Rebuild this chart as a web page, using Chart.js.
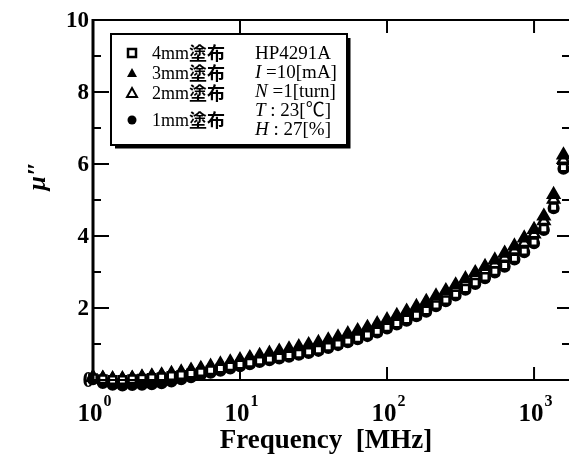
<!DOCTYPE html>
<html><head><meta charset="utf-8">
<script src="https://cdn.jsdelivr.net/npm/chart.js@4"></script>
<style>html,body{margin:0;padding:0;background:#fff}#c{display:block}</style>
</head><body>
<canvas id="c" width="569" height="461"></canvas>
<script>
// Frequency [MHz], log-spaced sweep (15 points per decade)
const freq = [1,1.166,1.359,1.585,1.848,2.154,2.512,2.929,3.415,3.981,4.642,5.412,6.310,7.356,8.577,
  10,11.66,13.59,15.85,18.48,21.54,25.12,29.29,34.15,39.81,46.42,54.12,63.10,73.56,85.77,
  100,116.6,135.9,158.5,184.8,215.4,251.2,292.9,341.5,398.1,464.2,541.2,631.0,735.6,857.7,
  1000,1166,1359,1585];
const mu4mm = [0.05,0.02,0.00,0.00,0.02,0.04,0.06,0.08,0.11,0.14,0.18,0.22,0.27,0.32,0.38,0.43,0.48,0.53,0.58,0.63,0.68,0.73,0.78,0.84,0.92,1.00,1.08,1.16,1.25,1.35,1.46,1.57,1.68,1.80,1.93,2.08,2.22,2.38,2.54,2.70,2.86,3.02,3.18,3.38,3.58,3.83,4.20,4.80,5.90];
const mu3mm = [0.08,0.05,0.03,0.03,0.05,0.08,0.11,0.14,0.18,0.22,0.27,0.32,0.38,0.44,0.50,0.56,0.62,0.68,0.74,0.80,0.86,0.92,0.98,1.04,1.11,1.19,1.28,1.37,1.46,1.56,1.67,1.79,1.91,2.04,2.18,2.33,2.48,2.64,2.81,2.98,3.15,3.33,3.52,3.72,3.94,4.18,4.55,5.15,6.25];
const mu2mm = [0.07,0.04,0.02,0.02,0.04,0.07,0.09,0.12,0.15,0.19,0.24,0.29,0.34,0.40,0.46,0.52,0.58,0.63,0.69,0.75,0.80,0.86,0.92,0.98,1.05,1.13,1.21,1.30,1.39,1.49,1.60,1.71,1.83,1.96,2.10,2.24,2.39,2.55,2.71,2.88,3.05,3.22,3.40,3.60,3.81,4.05,4.42,5.02,6.12];
const mu1mm = [0.02,-0.08,-0.13,-0.15,-0.14,-0.13,-0.12,-0.09,-0.04,0.02,0.08,0.14,0.20,0.26,0.32,0.38,0.44,0.50,0.55,0.60,0.65,0.70,0.75,0.81,0.89,0.97,1.05,1.13,1.22,1.32,1.43,1.54,1.65,1.77,1.90,2.05,2.19,2.35,2.51,2.67,2.83,2.99,3.15,3.35,3.55,3.80,4.17,4.77,5.87];

const seriesNames = ['4mm塗布','3mm塗布','2mm塗布','1mm塗布'];
const xTickValues = [1,10,100,1000];
const xTickExp = ['0','1','2','3'];
const yTickValues = [0,2,4,6,8,10];
const yMinorValues = [1,3,5,7,9];
const infoLines = [
  [['HP4291A',false]],
  [['I',true],[' =10[mA]',false]],
  [['N',true],[' =1[turn]',false]],
  [['T',true],[' : 23[℃]',false]],
  [['H',true],[' : 27[%]',false]]
];

const pts = (arr) => arr.map((v,i)=>({x:freq[i], y:v}));
const SERIF = "'Liberation Serif','Noto Sans CJK JP'";

const decor = {
  id:'decor',
  afterDraw(chart){
    const ctx = chart.ctx, xs = chart.scales.x, ys = chart.scales.y;
    const L = chart.chartArea.left, R = chart.chartArea.right, T = chart.chartArea.top, B = chart.chartArea.bottom;
    ctx.save();
    ctx.strokeStyle = '#000'; ctx.fillStyle = '#000';
    // frame
    ctx.lineWidth = 3;
    ctx.beginPath(); ctx.moveTo(L, T-1); ctx.lineTo(L, B+1); ctx.stroke();
    ctx.lineWidth = 2;
    ctx.beginPath(); ctx.moveTo(L, B); ctx.lineTo(R+1, B); ctx.stroke();
    ctx.beginPath(); ctx.moveTo(L, T); ctx.lineTo(R+1, T); ctx.stroke();
    // y ticks (inward) left and right
    ctx.lineWidth = 2;
    yTickValues.forEach(v=>{ const y = ys.getPixelForValue(v);
      ctx.beginPath(); ctx.moveTo(L, y); ctx.lineTo(L+16, y); ctx.stroke();
      ctx.beginPath(); ctx.moveTo(R+1, y); ctx.lineTo(R-11, y); ctx.stroke(); });
    yMinorValues.forEach(v=>{ const y = ys.getPixelForValue(v);
      ctx.beginPath(); ctx.moveTo(L, y); ctx.lineTo(L+8, y); ctx.stroke();
      ctx.beginPath(); ctx.moveTo(R+1, y); ctx.lineTo(R-6, y); ctx.stroke(); });
    // x ticks (inward) bottom and top
    xTickValues.slice(1).forEach(v=>{ const x = xs.getPixelForValue(v);
      ctx.beginPath(); ctx.moveTo(x, B); ctx.lineTo(x, B-13); ctx.stroke();
      ctx.beginPath(); ctx.moveTo(x, T); ctx.lineTo(x, T+13); ctx.stroke(); });
    // y tick labels
    ctx.font = "bold 23px " + SERIF; ctx.textAlign = 'right'; ctx.textBaseline = 'middle';
    yTickValues.forEach(v=>{ ctx.fillText(String(v), L - 4 + (v===0?5:0), ys.getPixelForValue(v)+1); });
    // x tick labels 10^n
    ctx.textBaseline = 'alphabetic';
    xTickValues.forEach((v,i)=>{
      const x = xs.getPixelForValue(v);
      ctx.font = "bold 25px " + SERIF;
      const w = ctx.measureText('10').width;
      ctx.font = "bold 16px " + SERIF;
      const we = ctx.measureText(xTickExp[i]).width;
      const x0 = x - (w+we)/2 + 1;
      ctx.textAlign = 'left';
      ctx.font = "bold 25px " + SERIF; ctx.fillText('10', x0, 421);
      ctx.font = "bold 16px " + SERIF; ctx.fillText(xTickExp[i], x0 + w + 1, 406);
    });
    // axis titles
    ctx.textAlign = 'center';
    ctx.font = "bold 27px 'Liberation Serif'";
    ctx.fillText('Frequency  [MHz]', 326, 448);
    ctx.save(); ctx.translate(38, 176); ctx.rotate(-Math.PI/2);
    ctx.font = "italic bold 26px " + SERIF; ctx.textBaseline = 'middle';
    ctx.fillText('μ″', 0, 0); ctx.restore();
    // legend box
    const bx=111, by=34, bw=236, bh=111;
    ctx.fillStyle = '#fff'; ctx.fillRect(bx, by, bw, bh); ctx.fillStyle = '#000';
    ctx.lineWidth = 2; ctx.strokeRect(bx, by, bw, bh);
    ctx.lineWidth = 3;
    ctx.beginPath(); ctx.moveTo(bx+4, by+bh+2); ctx.lineTo(bx+bw+2, by+bh+2); ctx.lineTo(bx+bw+2, by+4); ctx.stroke();
    const rowsL = [53, 73, 93, 120];
    const mx = 132;
    rowsL.forEach((y,i)=>{
      ctx.lineWidth = 2.5;
      if(i===0){ ctx.fillStyle='#fff'; ctx.fillRect(mx-4,y-4,8,8); ctx.fillStyle='#000'; ctx.strokeRect(mx-4,y-4,8,8); }
      else if(i===1||i===2){ ctx.beginPath(); ctx.moveTo(mx, y-5); ctx.lineTo(mx+5, y+4); ctx.lineTo(mx-5, y+4); ctx.closePath();
        if(i===1){ ctx.fill(); } else { ctx.fillStyle='#fff'; ctx.fill(); ctx.fillStyle='#000'; ctx.lineWidth=2; ctx.stroke(); } }
      else { ctx.beginPath(); ctx.arc(mx, y, 4.5, 0, Math.PI*2); ctx.fill(); }
      ctx.textAlign='left'; ctx.textBaseline='middle';
      ctx.font = "18px " + SERIF; ctx.fillText(seriesNames[i].slice(0,3), 152, y+1);
      const w = ctx.measureText(seriesNames[i].slice(0,3)).width;
      ctx.font = "bold 18px 'Noto Sans CJK JP'"; ctx.fillText(seriesNames[i].slice(3), 152 + w, y);
    });
    const rowsR = [53, 72, 91, 110, 129];
    rowsR.forEach((y,i)=>{
      let x = 255;
      infoLines[i].forEach(([t,it])=>{
        ctx.font = (it?'italic ':'') + "19px " + SERIF;
        ctx.fillText(t, x, y+1); x += ctx.measureText(t).width;
      });
    });
    ctx.restore();
  }
};

const common = {showLine:false, clip:false, borderColor:'#000', borderWidth:2.5};
new Chart(document.getElementById('c'), {
  type:'scatter',
  data:{ datasets:[
    Object.assign({label:seriesNames[0], data:pts(mu4mm), pointStyle:'rect', pointRadius:5.2, backgroundColor:'#fff'}, common),
    Object.assign({label:seriesNames[1], data:pts(mu3mm), pointStyle:'triangle', pointRadius:6.3, backgroundColor:'#000'}, common),
    Object.assign({label:seriesNames[2], data:pts(mu2mm), pointStyle:'triangle', pointRadius:6.3, backgroundColor:'#fff'}, common),
    Object.assign({label:seriesNames[3], data:pts(mu1mm), pointStyle:'circle', pointRadius:4.8, backgroundColor:'#000'}, common)
  ]},
  options:{
    responsive:false, animation:false,
    layout:{autoPadding:false, padding:{left:93, top:20, right:1, bottom:81}},
    plugins:{legend:{display:false}, tooltip:{enabled:false}},
    elements:{point:{hoverRadius:4}},
    scales:{
      x:{type:'logarithmic', min:1, max:1702, display:false},
      y:{type:'linear', min:0, max:10, display:false}
    }
  },
  plugins:[decor]
});
</script>
</body></html>
